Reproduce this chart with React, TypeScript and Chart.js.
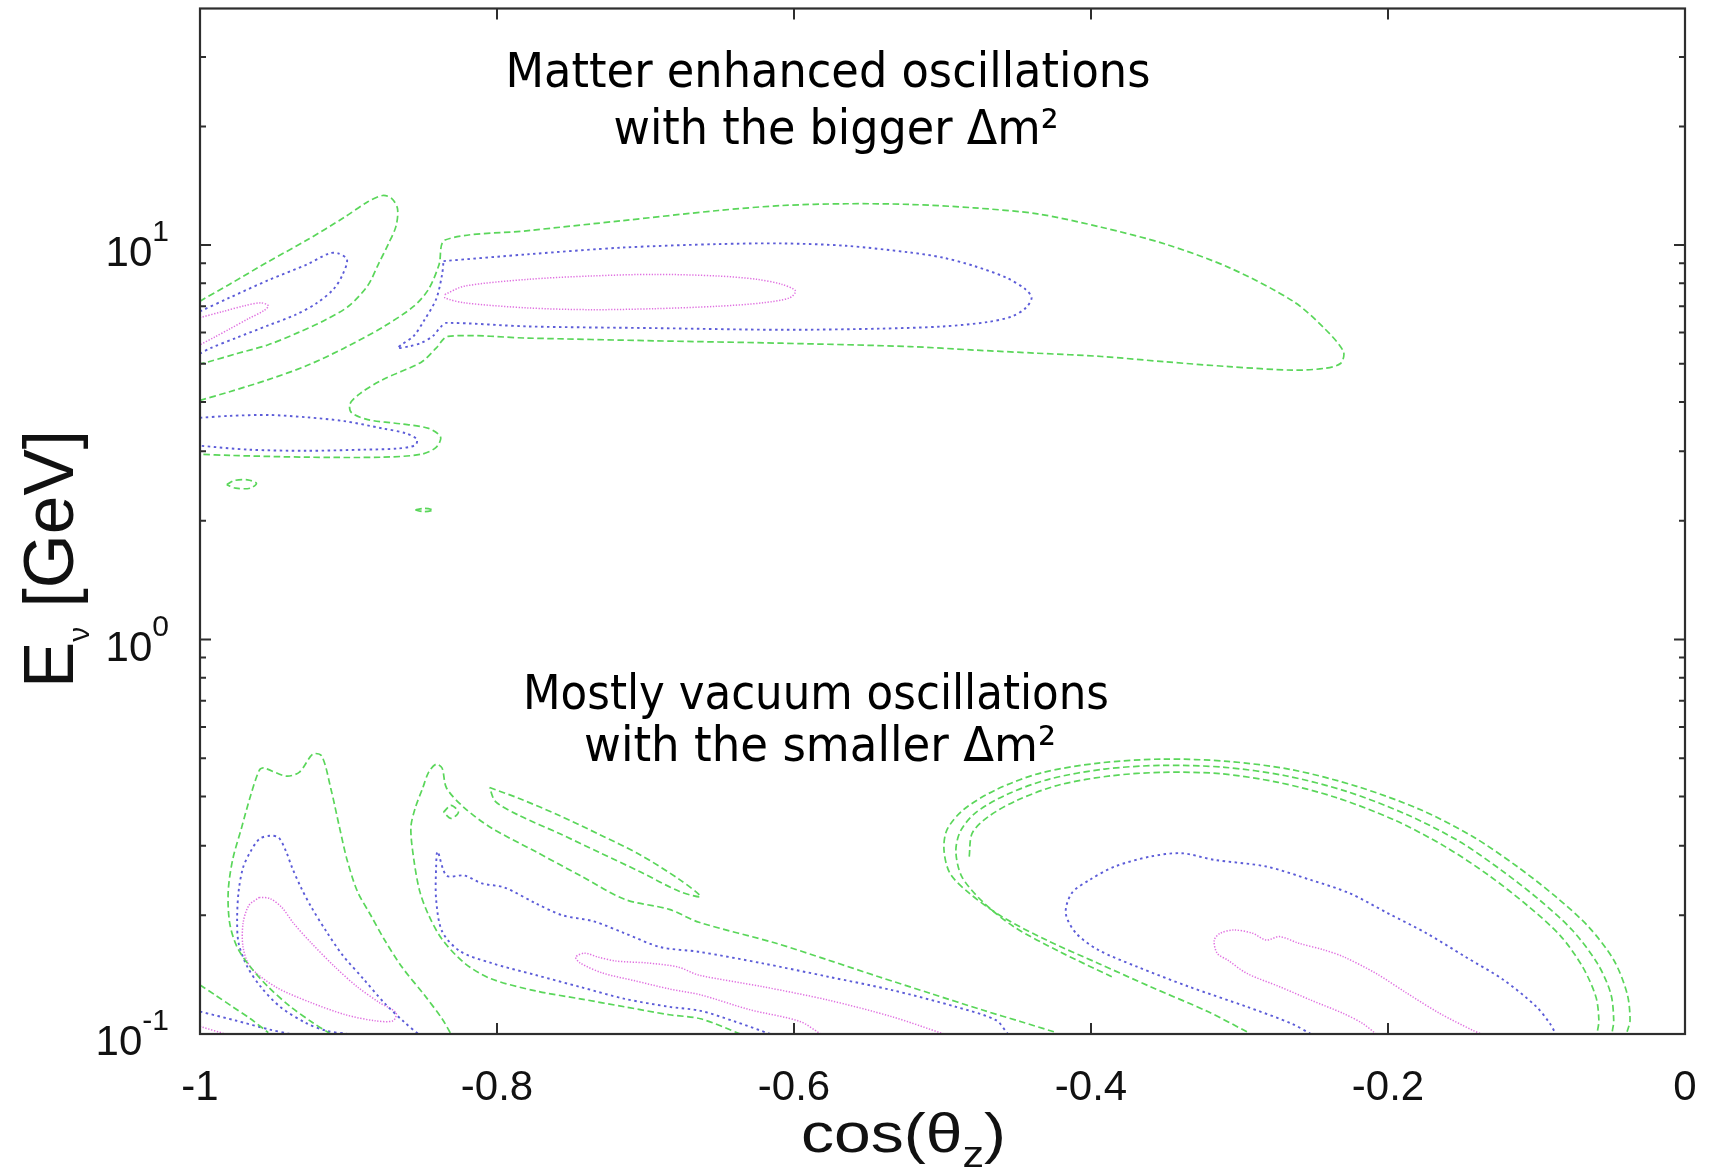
import React, { useEffect, useRef } from 'react';
import { Chart, registerables } from 'chart.js';

Chart.register(...registerables);

type P = [number, number]; // [cos(theta_z), E_nu in GeV]

// ---- axes ----
const xTickValues = [-1, -0.8, -0.6, -0.4, -0.2, 0];
const xTickLabels = ['-1', '-0.8', '-0.6', '-0.4', '-0.2', '0'];
const yDecades = [0.1, 1, 10];
const yDecadeExponents = ['-1', '0', '1'];
const yMinorTicks = [0.2, 0.3, 0.4, 0.5, 0.6, 0.7, 0.8, 0.9, 2, 3, 4, 5, 6, 7, 8, 9, 20, 30];
const xMin = -1;
const xMax = 0;
const yMin = 0.1;
const yMax = 39.8;

// ---- high-energy region (matter enhanced, bigger dm^2) ----
const greenHighLeft: P[] = [
  [-1.0, 7.21], [-0.98, 7.96], [-0.954, 9.08], [-0.928, 10.3], [-0.903, 11.75], [-0.887, 12.88],
  [-0.877, 13.36], [-0.871, 13.14], [-0.867, 12.37], [-0.868, 11.17], [-0.873, 10.1], [-0.88, 8.93],
  [-0.887, 7.9], [-0.9, 7.0], [-0.916, 6.45], [-0.934, 6.0], [-0.954, 5.59], [-0.975, 5.31],
  [-0.995, 5.05], [-1.0, 5.0],
];
const blueHighLeft: P[] = [
  [-1.0, 6.79], [-0.98, 7.36], [-0.954, 8.15], [-0.928, 8.93], [-0.913, 9.53], [-0.907, 9.53],
  [-0.901, 9.2], [-0.904, 8.41], [-0.91, 7.74], [-0.921, 7.14], [-0.936, 6.65], [-0.954, 6.26],
  [-0.975, 5.83], [-0.993, 5.48], [-1.0, 5.31],
];
const magentaHighLeft: P[] = [
  [-1.0, 6.55], [-0.985, 6.78], [-0.97, 7.02], [-0.959, 7.14], [-0.954, 7.02], [-0.957, 6.82],
  [-0.967, 6.52], [-0.98, 6.13], [-0.99, 5.85], [-1.0, 5.59],
];
const greenHighMain: P[] = [
  [-1.0, 4.04], [-0.98, 4.25], [-0.954, 4.56], [-0.928, 4.95], [-0.903, 5.48], [-0.877, 6.19],
  [-0.856, 7.0], [-0.846, 7.74], [-0.839, 8.93], [-0.835, 10.3],
  [-0.779, 10.88], [-0.715, 11.54], [-0.651, 12.24], [-0.608, 12.6], [-0.565, 12.73], [-0.522, 12.68],
  [-0.479, 12.43], [-0.436, 12.0], [-0.393, 11.1], [-0.35, 10.06], [-0.307, 8.77], [-0.264, 7.21],
  [-0.243, 6.16], [-0.23, 5.37], [-0.232, 5.01], [-0.243, 4.87], [-0.264, 4.82], [-0.307, 4.92],
  [-0.35, 5.06], [-0.393, 5.22], [-0.436, 5.32], [-0.479, 5.42], [-0.522, 5.53], [-0.608, 5.64],
  [-0.694, 5.72], [-0.779, 5.81], [-0.833, 5.87],
  [-0.841, 5.48], [-0.851, 5.05], [-0.877, 4.56], [-0.892, 4.21], [-0.899, 3.96], [-0.898, 3.76],
  [-0.887, 3.61], [-0.864, 3.52], [-0.846, 3.43], [-0.838, 3.26], [-0.841, 3.07], [-0.851, 2.95],
  [-0.877, 2.9], [-0.928, 2.9], [-0.98, 2.93], [-1.0, 2.95],
];
const blueHighMain: P[] = [
  [-0.836, 9.11], [-0.779, 9.48], [-0.715, 9.86], [-0.651, 10.06], [-0.608, 10.1], [-0.565, 9.96],
  [-0.522, 9.58], [-0.5, 9.3], [-0.479, 8.86], [-0.457, 8.27], [-0.444, 7.72], [-0.44, 7.35],
  [-0.444, 6.93], [-0.453, 6.6], [-0.47, 6.38], [-0.5, 6.22], [-0.543, 6.14], [-0.608, 6.1],
  [-0.694, 6.16], [-0.779, 6.22], [-0.834, 6.35], [-0.838, 6.2], [-0.843, 5.89], [-0.851, 5.65],
  [-0.859, 5.54], [-0.867, 5.48], [-0.864, 5.6], [-0.856, 5.89], [-0.849, 6.45], [-0.841, 7.29],
  [-0.837, 8.41], [-0.836, 9.11],
];
const magentaHighMain: P[] = [
  [-0.835, 7.5], [-0.822, 7.87], [-0.779, 8.19], [-0.737, 8.35], [-0.694, 8.43], [-0.651, 8.35],
  [-0.625, 8.19], [-0.608, 7.95], [-0.599, 7.65], [-0.603, 7.35], [-0.621, 7.14], [-0.651, 7.0],
  [-0.694, 6.9], [-0.737, 6.86], [-0.779, 6.93], [-0.822, 7.14], [-0.835, 7.35], [-0.835, 7.5],
];
const blueHighLow: P[] = [
  [-1.0, 3.65], [-0.98, 3.69], [-0.954, 3.71], [-0.928, 3.66], [-0.903, 3.58], [-0.877, 3.43],
  [-0.861, 3.33], [-0.854, 3.22], [-0.855, 3.11], [-0.867, 3.05], [-0.89, 3.03], [-0.928, 3.01],
  [-0.967, 3.03], [-1.0, 3.1],
];
const greenIslandA: P[] = [
  [-0.982, 2.47], [-0.977, 2.53], [-0.968, 2.54], [-0.962, 2.49], [-0.966, 2.42], [-0.976, 2.42], [-0.982, 2.47],
];
const greenIslandB: P[] = [
  [-0.855, 2.13], [-0.849, 2.15], [-0.843, 2.13], [-0.849, 2.11], [-0.855, 2.13],
];

// ---- low-energy region (mostly vacuum, smaller dm^2) ----
const greenLowCorner: P[] = [[-1.0, 0.1331], [-0.99, 0.1257], [-0.978, 0.1172], [-0.966, 0.1093], [-0.954, 0.1008]];
const blueLowCorner: P[] = [[-1.0, 0.114], [-0.976, 0.1082], [-0.953, 0.1026], [-0.939, 0.1]];
const magentaLowCorner: P[] = [[-1.0, 0.1045], [-0.983, 0.1]];

const greenLowFirst: P[] = [
  [-0.912, 0.1], [-0.924, 0.1068], [-0.939, 0.1172], [-0.954, 0.1316], [-0.966, 0.1478], [-0.975, 0.1661],
  [-0.98, 0.1909], [-0.981, 0.2299], [-0.978, 0.2767], [-0.972, 0.3334], [-0.966, 0.4014], [-0.96, 0.4669],
  [-0.957, 0.4724], [-0.942, 0.4508], [-0.933, 0.4614], [-0.924, 0.5124], [-0.918, 0.5064], [-0.912, 0.4205],
  [-0.906, 0.3334], [-0.901, 0.2767], [-0.894, 0.2299], [-0.885, 0.2], [-0.876, 0.1739], [-0.864, 0.1478],
  [-0.849, 0.1257], [-0.837, 0.1093], [-0.831, 0.1],
];
const blueLowFirst: P[] = [
  [-0.9, 0.1], [-0.915, 0.1019], [-0.929, 0.1068], [-0.946, 0.1172], [-0.959, 0.1316], [-0.968, 0.1478],
  [-0.974, 0.17], [-0.975, 0.1954], [-0.974, 0.2299], [-0.971, 0.2642], [-0.966, 0.29], [-0.96, 0.3123],
  [-0.953, 0.3182], [-0.947, 0.3146], [-0.942, 0.29], [-0.938, 0.2642], [-0.932, 0.2352], [-0.925, 0.2096],
  [-0.915, 0.1822], [-0.904, 0.1585], [-0.89, 0.138], [-0.876, 0.12], [-0.862, 0.1068], [-0.853, 0.1],
];
const magentaLowFirst: P[] = [
  [-0.96, 0.222], [-0.967, 0.212], [-0.971, 0.1909], [-0.971, 0.1661], [-0.966, 0.1478], [-0.949, 0.1316],
  [-0.925, 0.12], [-0.902, 0.1119], [-0.882, 0.108], [-0.87, 0.108], [-0.868, 0.1132], [-0.879, 0.12],
  [-0.894, 0.1316], [-0.909, 0.1478], [-0.925, 0.17], [-0.937, 0.1909], [-0.945, 0.2096], [-0.953, 0.2206],
  [-0.96, 0.222],
];

const greenLowSecond: P[] = [
  [-0.636, 0.1], [-0.663, 0.1093], [-0.684, 0.1119], [-0.714, 0.1172], [-0.744, 0.1228], [-0.774, 0.1286],
  [-0.804, 0.138], [-0.822, 0.1514], [-0.837, 0.1739], [-0.846, 0.2], [-0.852, 0.2299], [-0.856, 0.2767],
  [-0.858, 0.3334], [-0.855, 0.3745], [-0.85, 0.4205], [-0.846, 0.4614], [-0.841, 0.4831], [-0.837, 0.4724],
  [-0.834, 0.4205], [-0.822, 0.3745], [-0.804, 0.3334], [-0.774, 0.29], [-0.744, 0.2522], [-0.714, 0.2195],
  [-0.684, 0.207], [-0.664, 0.192], [-0.612, 0.1698], [-0.577, 0.154], [-0.543, 0.1397], [-0.508, 0.1267],
  [-0.473, 0.115], [-0.447, 0.1074], [-0.425, 0.1013],
];
const greenLowBand: P[] = [
  [-0.805, 0.4215], [-0.785, 0.3954], [-0.758, 0.358], [-0.731, 0.3204], [-0.704, 0.2851], [-0.677, 0.2463],
  [-0.663, 0.2231], [-0.677, 0.2298], [-0.704, 0.2582], [-0.731, 0.2884], [-0.758, 0.3223], [-0.785, 0.358],
  [-0.801, 0.3885], [-0.805, 0.4215],
];
const greenLowSpeck: P[] = [
  [-0.836, 0.365], [-0.831, 0.38], [-0.826, 0.365], [-0.831, 0.352], [-0.836, 0.365],
];
const blueLowSecond: P[] = [
  [-0.616, 0.1], [-0.64, 0.1076], [-0.663, 0.1145], [-0.684, 0.1172], [-0.714, 0.1228], [-0.744, 0.1316],
  [-0.774, 0.1411], [-0.804, 0.1514], [-0.825, 0.1622], [-0.837, 0.1822], [-0.841, 0.2195], [-0.841, 0.2642],
  [-0.84, 0.29], [-0.834, 0.2522], [-0.822, 0.2522], [-0.81, 0.2408], [-0.795, 0.2352], [-0.774, 0.2145],
  [-0.756, 0.2], [-0.735, 0.1931], [-0.714, 0.18], [-0.69, 0.1661], [-0.664, 0.1616], [-0.621, 0.151],
  [-0.577, 0.1397], [-0.534, 0.1292], [-0.491, 0.1172], [-0.464, 0.1084], [-0.456, 0.1],
];
const magentaLowSecond: P[] = [
  [-0.582, 0.1], [-0.596, 0.1076], [-0.63, 0.1153], [-0.663, 0.1257], [-0.684, 0.1301], [-0.707, 0.1364],
  [-0.729, 0.1428], [-0.744, 0.1514], [-0.747, 0.1567], [-0.741, 0.1603], [-0.732, 0.1567], [-0.72, 0.1531],
  [-0.699, 0.1514], [-0.678, 0.1478], [-0.664, 0.141], [-0.621, 0.1318], [-0.577, 0.1219], [-0.534, 0.1106],
  [-0.499, 0.1],
];

const greenLowThirdOuter: P[] = [
  [-0.295, 0.1013], [-0.321, 0.1138], [-0.36, 0.1318], [-0.395, 0.151], [-0.43, 0.173], [-0.46, 0.1984],
  [-0.482, 0.2275], [-0.495, 0.2556], [-0.499, 0.293], [-0.497, 0.3293], [-0.486, 0.3702], [-0.464, 0.4161],
  [-0.434, 0.4587], [-0.395, 0.4862], [-0.352, 0.4977], [-0.308, 0.4911], [-0.265, 0.468], [-0.221, 0.4245],
  [-0.178, 0.3702], [-0.143, 0.3168], [-0.113, 0.2658], [-0.087, 0.2229], [-0.065, 0.1871], [-0.048, 0.154],
  [-0.039, 0.1267], [-0.037, 0.1084], [-0.039, 0.1013],
];
const greenLowThirdMid: P[] = [
  [-0.386, 0.1397], [-0.421, 0.1616], [-0.452, 0.1871], [-0.473, 0.2165], [-0.487, 0.2507], [-0.491, 0.2902],
  [-0.488, 0.3263], [-0.478, 0.3631], [-0.457, 0.4043], [-0.428, 0.4429], [-0.391, 0.4695], [-0.352, 0.4798],
  [-0.31, 0.4743], [-0.269, 0.4516], [-0.228, 0.4122], [-0.187, 0.3596], [-0.152, 0.3078], [-0.124, 0.2607],
  [-0.098, 0.2187], [-0.076, 0.1835], [-0.059, 0.151], [-0.05, 0.1267], [-0.048, 0.1084], [-0.049, 0.1013],
];
const greenLowThirdInner: P[] = [
  [-0.482, 0.2818], [-0.48, 0.323], [-0.469, 0.356], [-0.449, 0.3925], [-0.421, 0.4285], [-0.386, 0.4516],
  [-0.352, 0.4607], [-0.313, 0.4571], [-0.274, 0.4345], [-0.235, 0.3977], [-0.195, 0.3478], [-0.161, 0.2977],
  [-0.132, 0.2522], [-0.106, 0.2115], [-0.084, 0.1776], [-0.069, 0.1481], [-0.06, 0.1242], [-0.058, 0.1084],
  [-0.059, 0.1013],
];
const blueLowThird: P[] = [
  [-0.252, 0.1], [-0.265, 0.1063], [-0.295, 0.1172], [-0.334, 0.1318], [-0.369, 0.1481], [-0.395, 0.1633],
  [-0.41, 0.18], [-0.417, 0.2023], [-0.413, 0.2275], [-0.401, 0.2458], [-0.384, 0.2658], [-0.36, 0.2818],
  [-0.339, 0.2873], [-0.317, 0.2764], [-0.282, 0.2658], [-0.252, 0.2458], [-0.226, 0.2275], [-0.2, 0.2023],
  [-0.174, 0.18], [-0.148, 0.157], [-0.122, 0.137], [-0.1, 0.1172], [-0.091, 0.1063], [-0.087, 0.1],
];
const magentaLowThird: P[] = [
  [-0.208, 0.1], [-0.217, 0.1063], [-0.23, 0.1127], [-0.252, 0.1219], [-0.273, 0.1318], [-0.295, 0.1424],
  [-0.308, 0.154], [-0.315, 0.1601], [-0.317, 0.173], [-0.313, 0.18], [-0.304, 0.1835], [-0.291, 0.18],
  [-0.282, 0.173], [-0.273, 0.1766], [-0.26, 0.1698], [-0.243, 0.1633], [-0.23, 0.157], [-0.208, 0.1424],
  [-0.187, 0.1267], [-0.165, 0.1127], [-0.143, 0.1022], [-0.137, 0.1],
];

const greenContours: P[][] = [
  greenHighLeft, greenHighMain, greenIslandA, greenIslandB,
  greenLowCorner, greenLowFirst, greenLowSecond, greenLowBand, greenLowSpeck,
  greenLowThirdOuter, greenLowThirdMid, greenLowThirdInner,
];
const blueContours: P[][] = [
  blueHighLeft, blueHighMain, blueHighLow, blueLowCorner, blueLowFirst, blueLowSecond, blueLowThird,
];
const magentaContours: P[][] = [
  magentaHighLeft, magentaHighMain, magentaLowCorner, magentaLowFirst, magentaLowSecond, magentaLowThird,
];

// annotation text
const upperNote = ['Matter enhanced oscillations', 'with the bigger \u0394m\u00b2'];
const lowerNote = ['Mostly vacuum oscillations', 'with the smaller \u0394m\u00b2'];

const SANS = '"Liberation Sans", Arial, Helvetica, sans-serif';
const NOTE_FONT = '"DejaVu Sans", "Noto Sans", sans-serif';

type LevelStyle = { color: string; width: number; dash: number[] };
const greenStyle: LevelStyle = { color: '#5ad65a', width: 1.7, dash: [6.5, 3.5] };
const blueStyle: LevelStyle = { color: '#5c5cd8', width: 1.9, dash: [2.5, 3.5] };
const magentaStyle: LevelStyle = { color: '#e070e0', width: 1.5, dash: [1.3, 1.6] };

function contourDataset(points: P[], style: LevelStyle) {
  return {
    data: points.map(([x, y]) => ({ x, y })),
    showLine: true,
    pointRadius: 0,
    pointHoverRadius: 0,
    borderColor: style.color,
    borderWidth: style.width,
    borderDash: style.dash,
    borderCapStyle: 'butt' as const,
    tension: 0.3,
    fill: false,
  };
}

type Run = { t: string; size: number; dy: number };

function drawRuns(
  ctx: CanvasRenderingContext2D,
  runs: Run[],
  family: string,
  x: number,
  y: number,
  opts: { align?: 'left' | 'center' | 'right'; width?: number; angle?: number; weight?: string },
) {
  const weight = opts.weight ?? 'normal';
  let natural = 0;
  const widths = runs.map((r) => {
    ctx.font = `${weight} ${r.size}px ${family}`;
    const w = ctx.measureText(r.t).width;
    natural += w;
    return w;
  });
  const sx = opts.width ? opts.width / natural : 1;
  ctx.save();
  ctx.translate(x, y);
  if (opts.angle) ctx.rotate(opts.angle);
  ctx.scale(sx, 1);
  ctx.textAlign = 'left';
  ctx.textBaseline = 'alphabetic';
  let cx = opts.align === 'center' ? -natural / 2 : opts.align === 'right' ? -natural : 0;
  runs.forEach((r, i) => {
    ctx.font = `${weight} ${r.size}px ${family}`;
    ctx.fillText(r.t, cx, r.dy);
    cx += widths[i];
  });
  ctx.restore();
}

const frameAndLabels = {
  id: 'frameAndLabels',
  afterDatasetsDraw(chart: any) {
    const { ctx, chartArea: a, scales } = chart;
    const xs = scales.x;
    const ys = scales.y;
    ctx.save();

    // inward tick marks on all four sides
    ctx.strokeStyle = '#2e2e2e';
    ctx.lineWidth = 2;
    ctx.beginPath();
    for (const v of xTickValues) {
      const px = xs.getPixelForValue(v);
      ctx.moveTo(px, a.bottom);
      ctx.lineTo(px, a.bottom - 11);
      ctx.moveTo(px, a.top);
      ctx.lineTo(px, a.top + 11);
    }
    for (const v of yDecades) {
      const py = ys.getPixelForValue(v);
      ctx.moveTo(a.left, py);
      ctx.lineTo(a.left + 11, py);
      ctx.moveTo(a.right, py);
      ctx.lineTo(a.right - 11, py);
    }
    for (const v of yMinorTicks) {
      const py = ys.getPixelForValue(v);
      ctx.moveTo(a.left, py);
      ctx.lineTo(a.left + 6, py);
      ctx.moveTo(a.right, py);
      ctx.lineTo(a.right - 6, py);
    }
    ctx.stroke();
    ctx.lineWidth = 2.2;
    ctx.strokeRect(a.left, a.top, a.right - a.left, a.bottom - a.top);

    ctx.fillStyle = '#111';
    // x tick labels
    xTickValues.forEach((v, i) => {
      drawRuns(ctx, [{ t: xTickLabels[i], size: 42, dy: 0 }], SANS, xs.getPixelForValue(v), a.bottom + 66, {
        align: 'center',
      });
    });
    // y tick labels (powers of ten)
    yDecades.forEach((v, i) => {
      const py = ys.getPixelForValue(v);
      drawRuns(
        ctx,
        [
          { t: '10', size: 42, dy: 0 },
          { t: yDecadeExponents[i], size: 30, dy: -25 },
        ],
        SANS,
        a.left - 31,
        py + 21,
        { align: 'right' },
      );
    });

    // axis titles
    drawRuns(
      ctx,
      [
        { t: 'cos(\u03b8', size: 55, dy: 0 },
        { t: 'z', size: 36, dy: 15 },
        { t: ')', size: 55, dy: 0 },
      ],
      SANS,
      (a.left + a.right) / 2 - 39,
      a.bottom + 118,
      { align: 'center', width: 205 },
    );
    drawRuns(
      ctx,
      [
        { t: 'E', size: 70, dy: 0 },
        { t: '\u03bd', size: 30, dy: 16 },
        { t: ' [GeV]', size: 70, dy: 0 },
      ],
      SANS,
      73,
      688,
      { align: 'left', width: 258, angle: -Math.PI / 2 },
    );

    // region notes
    ctx.fillStyle = '#000';
    drawRuns(ctx, [{ t: upperNote[0], size: 48, dy: 0 }], NOTE_FONT, 828, 87, { align: 'center', width: 645 });
    drawRuns(ctx, [{ t: upperNote[1], size: 48, dy: 0 }], NOTE_FONT, 836, 144, { align: 'center', width: 445 });
    drawRuns(ctx, [{ t: lowerNote[0], size: 48, dy: 0 }], NOTE_FONT, 816, 709, { align: 'center', width: 586 });
    drawRuns(ctx, [{ t: lowerNote[1], size: 48, dy: 0 }], NOTE_FONT, 820, 761, { align: 'center', width: 472 });

    ctx.restore();
  },
};

export default function App() {
  const canvasRef = useRef<HTMLCanvasElement | null>(null);

  useEffect(() => {
    const canvas = canvasRef.current;
    if (!canvas) return;
    const datasets = [
      ...greenContours.map((c) => contourDataset(c, greenStyle)),
      ...blueContours.map((c) => contourDataset(c, blueStyle)),
      ...magentaContours.map((c) => contourDataset(c, magentaStyle)),
    ];
    const chart = new Chart(canvas, {
      type: 'scatter',
      data: { datasets },
      options: {
        responsive: false,
        animation: false,
        devicePixelRatio: 1,
        events: [],
        layout: { padding: { left: 200, right: 24, top: 8.5, bottom: 141 } },
        plugins: { legend: { display: false }, tooltip: { enabled: false } },
        scales: {
          x: { type: 'linear', min: xMin, max: xMax, display: false },
          y: { type: 'logarithmic', min: yMin, max: yMax, display: false },
        },
      },
      plugins: [frameAndLabels],
    } as any);
    return () => chart.destroy();
  }, []);

  return (
    <div style={{ position: 'fixed', left: 0, top: 0, width: 1709, height: 1175, background: '#fff' }}>
      <canvas ref={canvasRef} width={1709} height={1175} style={{ display: 'block' }} />
    </div>
  );
}
